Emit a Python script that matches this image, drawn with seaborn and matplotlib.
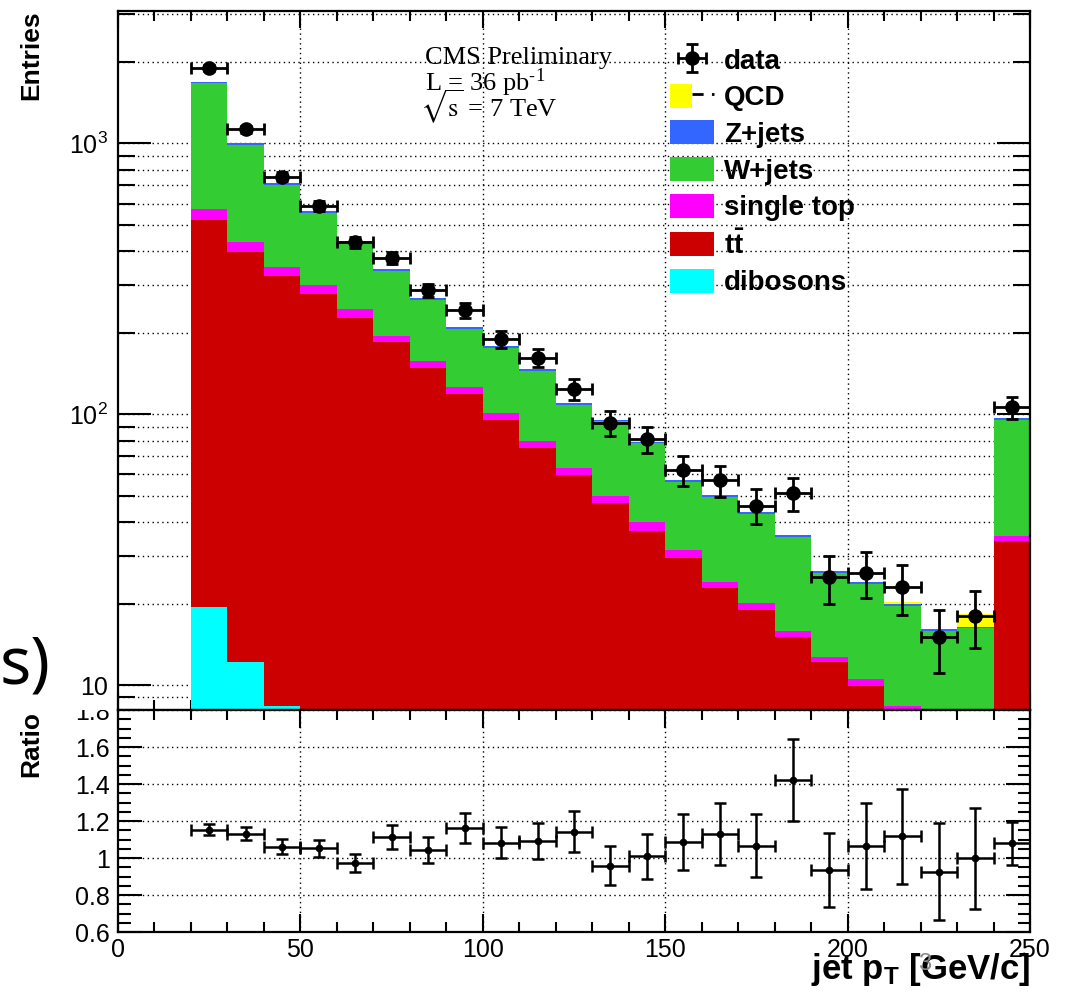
import numpy as np
import pandas as pd
import matplotlib
matplotlib.use("Agg")
import matplotlib.pyplot as plt
import seaborn as sns
from matplotlib.patches import Patch
from matplotlib.lines import Line2D
from matplotlib.legend_handler import HandlerTuple
from matplotlib.ticker import MultipleLocator, LogLocator, FuncFormatter, NullFormatter
from matplotlib.font_manager import FontProperties
from matplotlib.transforms import Bbox

# ---------------- data ----------------
bin_edges = [20, 30, 40, 50, 60, 70, 80, 90, 100, 110, 120, 130, 140, 150,
             160, 170, 180, 190, 200, 210, 220, 230, 240, 250]

qcd = [0, 0, 0, 0, 0, 0, 0, 0, 0, 0, 0, 0, 1.9, 0, 0, 0, 0, 0, 0, 0.35, 0, 1.8, 0]
zjets = [22, 14, 10, 8, 6, 5, 4, 3, 2.5, 2, 1.6, 1.4, 1.1, 0.9, 0.8, 0.7, 0.6,
         0.45, 0.4, 0.3, 0.3, 0.25, 1.5]
wjets = [1097, 554, 353, 255, 186, 143, 108, 81, 74.5, 65, 44.7, 44.4, 38.2,
         24.8, 25.4, 22.6, 19.5, 13.25, 13.2, 11.25, 8.3, 10.3, 60.1]
singletop = [51, 35, 26, 22, 17, 10, 9, 7, 5.5, 4.8, 3.5, 2.8, 2.7, 2.1, 1.2,
             1.1, 0.8, 0.5, 0.55, 0.3, 0.5, 0.4, 1.5]
ttbar = [500.5, 384.8, 315.6, 271, 222.5, 181.5, 145.3, 116.9, 93.9, 73.9,
         58.9, 46.2, 36.5, 29.0, 22.5, 18.65, 14.7, 11.95, 9.75, 7.95, 6.9, 5.4, 33.0]
dibosons = [19.5, 12.2, 8.4, 6.0, 4.5, 3.5, 2.7, 2.1, 1.6, 1.3, 1.0, 0.8, 0.7,
            0.5, 0.4, 0.35, 0.3, 0.25, 0.2, 0.15, 0.12, 0.1, 0.9]

data = [1899, 1129, 755, 588, 431, 379, 287, 242, 189, 162, 124, 93, 81, 62,
        57, 46, 51, 25, 26, 23, 15, 18, 106]

ratio = [1.153, 1.131, 1.062, 1.053, 0.973, 1.113, 1.042, 1.163, 1.082, 1.093,
         1.143, 0.959, 1.009, 1.087, 1.129, 1.067, 1.421, 0.936, 1.067, 1.118,
         0.927, 0.998, 1.080]
ratio_err = [0.030, 0.035, 0.039, 0.045, 0.050, 0.064, 0.069, 0.080, 0.084,
             0.097, 0.109, 0.105, 0.120, 0.151, 0.166, 0.170, 0.221, 0.200,
             0.232, 0.257, 0.263, 0.272, 0.117]

process_names = ["QCD", "Z+jets", "W+jets", "single top", "ttbar", "dibosons"]
legend_labels = ["QCD", "Z+jets", "W+jets", "single top",
                 r"$\mathbf{t\bar{t}}$", "dibosons"]
colors = ["#ffff00", "#3366ff", "#33cc33", "#ff00ff", "#cc0000", "#00ffff"]

# ---------------- style ----------------
sns.set_theme(style="white")
plt.rcParams["font.family"] = ["Liberation Sans", "DejaVu Sans"]
plt.rcParams["mathtext.fontset"] = "custom"
plt.rcParams["mathtext.rm"] = "Liberation Sans"
plt.rcParams["mathtext.it"] = "Liberation Sans:italic"
plt.rcParams["mathtext.bf"] = "Liberation Sans:bold"
plt.rcParams["axes.linewidth"] = 1.5
plt.rcParams["axes.edgecolor"] = "black"
for k in ["text.color", "axes.labelcolor", "xtick.color", "ytick.color"]:
    plt.rcParams[k] = "black"

W, H = 1068, 997
fig = plt.figure(figsize=(W / 100, H / 100), dpi=100)
fig.patch.set_facecolor("white")

def fx(px):
    return px / W

def fy(py):
    return 1 - py / H

ax = fig.add_axes([fx(118), fy(710), fx(1030) - fx(118), fy(11) - fy(710)])
axr = fig.add_axes([fx(118), fy(932), fx(1030) - fx(118), fy(710) - fy(932)])

centers = [0.5 * (a + b) for a, b in zip(bin_edges[:-1], bin_edges[1:])]
halfw = [0.5 * (b - a) for a, b in zip(bin_edges[:-1], bin_edges[1:])]

comp = {"QCD": qcd, "Z+jets": zjets, "W+jets": wjets, "single top": singletop,
        "ttbar": ttbar, "dibosons": dibosons}
rows = []
for p in process_names:
    for c, v in zip(centers, comp[p]):
        rows.append({"pt": c, "w": v, "process": p})
df = pd.DataFrame(rows)

sns.histplot(data=df, x="pt", weights="w", hue="process", hue_order=process_names,
             palette=dict(zip(process_names, colors)), multiple="stack",
             bins=list(bin_edges), element="bars", fill=True, alpha=1, linewidth=0,
             legend=False, ax=ax, zorder=2)

ax.set_yscale("log")
ax.set_xlim(0, 250)
ax.set_ylim(8.09, 3085)

data_arr = np.array(data, dtype=float)
dh = ax.errorbar(centers, data_arr, xerr=halfw, yerr=np.sqrt(data_arr), fmt="o",
                 color="black", ms=9.5, lw=2, capsize=4.5, capthick=2, zorder=5)

axr.errorbar(centers, ratio, xerr=halfw, yerr=ratio_err, fmt="o", color="black",
             ms=4.5, lw=1.8, capsize=4.5, capthick=1.8, zorder=5)
axr.set_xlim(0, 250)
axr.set_ylim(0.6, 1.8)

# ---------------- grid & ticks ----------------
grid_kw = dict(color="black", linestyle=(0, (1, 2.5)), linewidth=1.0)
for a in (ax, axr):
    a.xaxis.set_major_locator(MultipleLocator(50))
    a.xaxis.set_minor_locator(MultipleLocator(10))
    a.set_axisbelow(True)
    a.tick_params(which="both", direction="in", top=True, right=True,
                  bottom=True, left=True, colors="black", width=1.5)
    a.set_xlabel("")
    a.set_ylabel("")
    for s in a.spines.values():
        s.set_linewidth(1.6)
        s.set_zorder(10)

for g in [50, 100, 150, 200]:
    ax.axvline(g, zorder=1, **grid_kw)
    axr.axvline(g, zorder=1, **grid_kw)

ax.yaxis.set_major_locator(LogLocator(base=10, numticks=10))
ax.yaxis.set_minor_locator(LogLocator(base=10, subs=range(2, 10), numticks=30))
ax.yaxis.set_minor_formatter(NullFormatter())
ax.yaxis.set_major_formatter(FuncFormatter(
    lambda v, p: "10" if abs(v - 10) < 1e-6 else r"$10^{%d}$" % round(np.log10(v))))
ax.grid(True, which="both", axis="y", zorder=1, **grid_kw)
ax.tick_params(axis="x", labelbottom=False)
ax.tick_params(axis="y", which="major", length=24, labelsize=18, pad=7)
ax.tick_params(axis="y", which="minor", length=12)
ax.tick_params(axis="x", which="major", length=12)
ax.tick_params(axis="x", which="minor", length=7)

axr.yaxis.set_major_locator(MultipleLocator(0.2))
axr.yaxis.set_minor_locator(MultipleLocator(0.05))
axr.yaxis.set_major_formatter(FuncFormatter(lambda v, p: "%g" % round(v, 2)))
axr.xaxis.set_major_formatter(FuncFormatter(lambda v, p: "%g" % v))
axr.grid(True, which="major", axis="y", zorder=1, **grid_kw)
axr.tick_params(axis="y", which="major", length=17, labelsize=18, pad=6)
axr.tick_params(axis="y", which="minor", length=9)
axr.tick_params(axis="x", which="major", length=13, labelsize=18, pad=4)
axr.tick_params(axis="x", which="minor", length=7)

# clip ratio labels at the pad border (like the original)
fig.canvas.draw()
clipbox = Bbox.from_extents(0, 0, W, H - 710)
for t in axr.get_yticklabels():
    t.set_clip_box(clipbox)
    t.set_clip_on(True)

# ---------------- labels ----------------
fig.text(fx(31), fy(10), "Entries", rotation=90, ha="center", va="top",
         fontsize=19, fontweight="bold")
fig.text(fx(31), fy(711), "Ratio", rotation=90, ha="center", va="top",
         fontsize=19, fontweight="bold")
fig.text(fx(1030), fy(979), r"jet p$_{\mathbf{T}}$ [GeV/c]", ha="right",
         va="baseline", fontsize=25, fontweight="bold", zorder=3)

serif = FontProperties(family="Liberation Serif", size=19, math_fontfamily="stix")
fig.text(fx(425), fy(64), "CMS Preliminary", fontproperties=serif, va="baseline")
fig.text(fx(425), fy(91), r"L = 36 pb$^{\mathregular{\text{-}1}}$", fontproperties=serif,
         va="baseline")
fig.text(fx(420), fy(117), r"$\sqrt{\mathrm{s}}$ = 7 TeV", fontproperties=serif, va="baseline")

# ---------------- legend ----------------
handles = [dh]
labels = ["data"]
for name, lab, col in zip(process_names, legend_labels, colors):
    if name == "QCD":
        h = (Patch(facecolor=col, edgecolor="none"),
             Line2D([], [], color="black", ls=(0, (4, 3)), lw=2))
    else:
        h = Patch(facecolor=col, edgecolor="none")
    handles.append(h)
    labels.append(lab)
leg = ax.legend(handles, labels, loc="upper left",
                bbox_to_anchor=(fx(670), fy(47)), bbox_transform=fig.transFigure,
                frameon=False, prop=dict(family="Liberation Sans", weight="bold", size=20),
                handlelength=1.6, handleheight=0.95, handletextpad=0.35,
                labelspacing=0.33, borderpad=0, borderaxespad=0,
                handler_map={tuple: HandlerTuple(ndivide=None)})
leg.set_zorder(20)

# artifacts from the source image
fig.text(fx(0), fy(683), "s)", fontsize=47, ha="left", va="baseline",
         family="Noto Sans", color="black")
fig.text(fx(925), fy(970), "3", fontsize=17, ha="center", va="baseline",
         color="#8a8a8a", zorder=6)

fig.savefig("out.png", dpi=100, facecolor="white")
